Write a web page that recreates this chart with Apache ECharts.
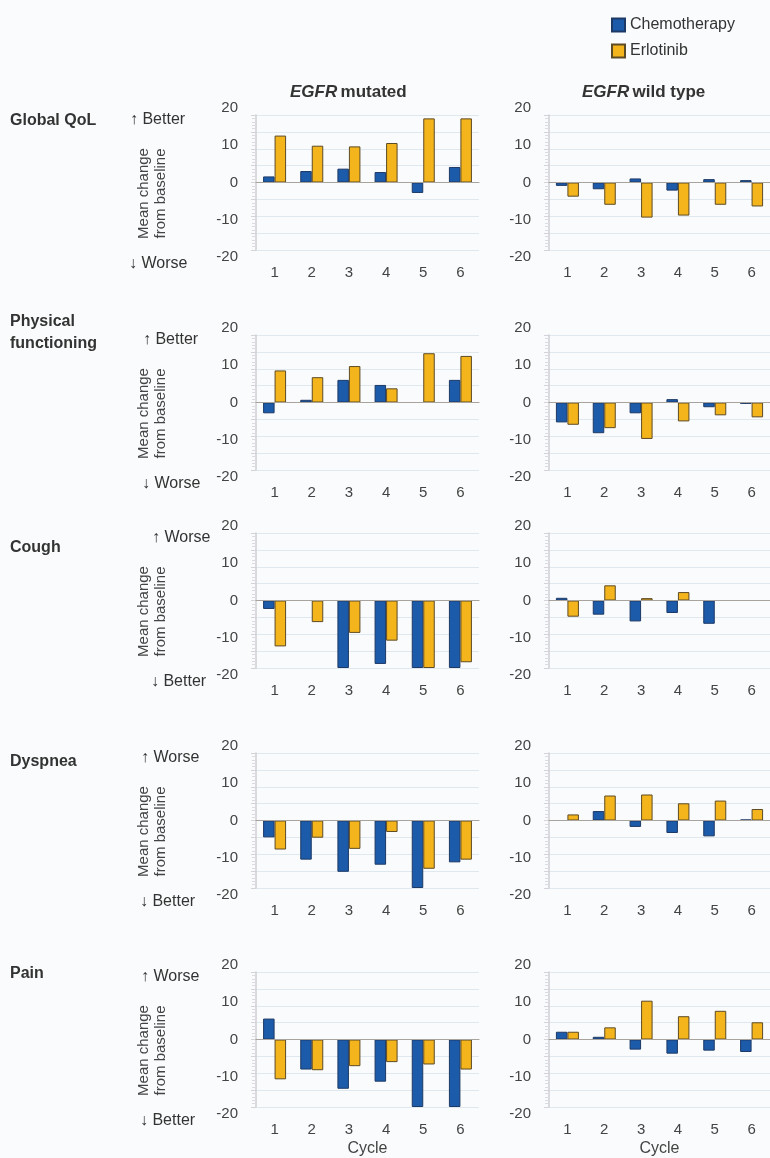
<!DOCTYPE html>
<html>
<head>
<meta charset="utf-8">
<script src="https://cdn.jsdelivr.net/npm/echarts@6/dist/echarts.min.js"></script>
<style>
  html, body { margin: 0; padding: 0; background: #fafbfc; }
  #chart { width: 770px; height: 1158px; }
</style>
</head>
<body>
<div id="chart"></div>
<script>
// Cycles on the x axis and the y-axis tick values
const cycles = ['1', '2', '3', '4', '5', '6'];
const yTicks = [-20, -10, 0, 10, 20];

// Mean change from baseline, EGFR mutated (Mut) and EGFR wild type (Wt)
const qolMutChemo = [1.8, 3.4, 4.1, 3.1, -3.1, 4.6];
const qolMutErlo = [13.9, 10.9, 10.7, 11.7, 19.0, 19.0];
const qolWtChemo = [-1.0, -2.0, 1.2, -2.4, 1.0, 0.7];
const qolWtErlo = [-4.2, -6.6, -10.4, -9.8, -6.6, -7.1];

const physMutChemo = [-3.2, 0.8, 6.7, 5.2, null, 6.7];
const physMutErlo = [9.5, 7.5, 10.8, 4.2, 14.6, 13.8];
const physWtChemo = [-5.9, -9.1, -3.2, 1.0, -1.4, -0.4];
const physWtErlo = [-6.6, -7.6, -10.8, -5.6, -3.8, -4.4];

const coughMutChemo = [-2.5, null, -20, -18.8, -20, -20];
const coughMutErlo = [-13.6, -6.4, -9.6, -11.9, -20, -18.3];
const coughWtChemo = [0.8, -4.2, -6.2, -3.7, -6.9, null];
const coughWtErlo = [-4.8, 4.5, 0.7, 2.5, null, null];

const dysMutChemo = [-5.0, -11.6, -15.2, -13.1, -20, -12.4];
const dysMutErlo = [-8.6, -5.1, -8.4, -3.4, -14.3, -11.6];
const dysWtChemo = [null, 2.8, -1.9, -3.7, -4.7, 0.3];
const dysWtErlo = [1.8, 7.4, 7.7, 5.1, 5.9, 3.4];

const painMutChemo = [6.2, -8.9, -14.6, -12.5, -20, -20];
const painMutErlo = [-11.8, -9.1, -7.9, -6.7, -7.4, -8.9];
const painWtChemo = [2.3, 0.8, -3.0, -4.2, -3.3, -3.7];
const painWtErlo = [2.3, 3.6, 11.5, 6.9, 8.5, 5.1];

const rowNames = ['Global QoL', 'Physical\nfunctioning', 'Cough', 'Dyspnea', 'Pain'];
const upLabels = ['\u2191 Better', '\u2191 Better', '\u2191 Worse', '\u2191 Worse', '\u2191 Worse'];
const downLabels = ['\u2193 Worse', '\u2193 Worse', '\u2193 Better', '\u2193 Better', '\u2193 Better'];
const seriesNames = ['Chemotherapy', 'Erlotinib'];
const yTitle = 'Mean change\nfrom baseline';

const panels = [
  [[qolMutChemo, qolMutErlo], [qolWtChemo, qolWtErlo]],
  [[physMutChemo, physMutErlo], [physWtChemo, physWtErlo]],
  [[coughMutChemo, coughMutErlo], [coughWtChemo, coughWtErlo]],
  [[dysMutChemo, dysMutErlo], [dysWtChemo, dysWtErlo]],
  [[painMutChemo, painMutErlo], [painWtChemo, painWtErlo]]
];

// Layout
const FONT = '"Liberation Sans", Arial, Helvetica, sans-serif';
const TEXT = '#333333';
const rowTops = [115, 335, 533, 753, 972];
const rowHeight = 135;
const colLeft = [256, 549];
const colWidth = [223, 228];
const upX = [130, 143, 152, 141, 141];
const rowLabelY = [121, 333, 548, 762, 974];

const colors = ['#1c5aaa', '#f4b51c'];
const borders = ['#1d3a66', '#5d4b25'];

const grids = [], xAxes = [], yAxes = [], series = [], graphics = [];
const yMin = yTicks[0], yMax = yTicks[yTicks.length - 1];

rowTops.forEach((top, r) => {
  [0, 1].forEach((c) => {
    const lastRow = r === rowTops.length - 1;
    // plotting grid
    const gi = grids.length;
    grids.push({ left: colLeft[c], top: top, width: colWidth[c], height: rowHeight, containLabel: false });
    xAxes.push({
      type: 'category', gridIndex: gi, data: cycles,
      axisLine: { onZero: true, lineStyle: { color: '#a8a39c', width: 1.2 } },
      axisTick: { show: false },
      axisLabel: { show: false },
      z: 3
    });
    yAxes.push({
      type: 'value', gridIndex: gi, min: yMin, max: yMax, interval: 5,
      axisLine: { show: true, lineStyle: { color: '#cfcfd4', width: 1.5 } },
      axisTick: { show: true, length: 5, lineStyle: { color: '#d4d4d8' } },
      minorTick: { show: true, splitNumber: 5, length: 4, lineStyle: { color: '#dcdce0' } },
      axisLabel: { show: false },
      splitLine: { show: true, lineStyle: { color: '#dfe7ef', width: 1 } }
    });
    panels[r][c].forEach((vals, s) => {
      series.push({
        type: 'bar', name: seriesNames[s], xAxisIndex: gi, yAxisIndex: gi,
        data: vals, barWidth: 11.5, barGap: '0%',
        itemStyle: { color: colors[s], borderColor: borders[s], borderWidth: 1 },
        emphasis: { disabled: true }
      });
    });
    // label grid carrying the tick labels and cycle labels
    const li = grids.length;
    grids.push({ left: colLeft[c], top: top - 7, width: colWidth[c], height: rowHeight + 14 });
    xAxes.push({
      type: 'category', gridIndex: li, data: cycles, position: 'bottom',
      axisLine: { show: false }, axisTick: { show: false },
      axisLabel: { show: true, margin: 8, color: '#444', fontSize: 15, fontFamily: FONT },
      name: lastRow ? 'Cycle' : '', nameLocation: 'middle', nameGap: 27,
      nameTextStyle: { color: '#444', fontSize: 16, fontFamily: FONT }
    });
    yAxes.push({
      type: 'value', gridIndex: li, min: yMin, max: yMax, interval: 10,
      axisLine: { show: false }, axisTick: { show: false }, splitLine: { show: false },
      axisLabel: { show: true, margin: 18, color: '#444', fontSize: 15, fontFamily: FONT }
    });
  });

  // vertical axis title, centred just below the zero line
  graphics.push({
    type: 'text', x: 152, y: top + rowHeight / 2 + 11, rotation: Math.PI / 2,
    style: { text: yTitle, font: '15px ' + FONT, fill: '#444', lineHeight: 17,
             textAlign: 'center', textVerticalAlign: 'middle' }
  });
  graphics.push({
    type: 'text', x: 10, y: rowLabelY[r],
    style: { text: rowNames[r], font: 'bold 16px ' + FONT, fill: TEXT, textVerticalAlign: 'middle', lineHeight: 22 }
  });
  graphics.push({
    type: 'text', x: upX[r], y: top + 5,
    style: { text: upLabels[r], font: '16px ' + FONT, fill: TEXT, textVerticalAlign: 'middle' }
  });
  graphics.push({
    type: 'text', x: upX[r] - 1, y: top + rowHeight + 14,
    style: { text: downLabels[r], font: '16px ' + FONT, fill: TEXT, textVerticalAlign: 'middle' }
  });
});

// column headers
[['mutated', 290], ['wild type', 582]].forEach(([rest, x]) => {
  graphics.push({
    type: 'text', x: x, y: 92,
    style: {
      text: '{i|EGFR} {b|' + rest + '}',
      textVerticalAlign: 'middle',
      rich: {
        i: { fontStyle: 'italic', fontWeight: 'bold', fontSize: 17, fontFamily: FONT, fill: TEXT },
        b: { fontWeight: 'bold', fontSize: 17, fontFamily: FONT, fill: TEXT }
      }
    }
  });
});

const chart = echarts.init(document.getElementById('chart'), null, { renderer: 'canvas' });
chart.setOption({
  backgroundColor: '#fafbfc',
  animation: false,
  textStyle: { fontFamily: FONT },
  legend: {
    data: seriesNames, orient: 'vertical', left: 606, top: 12,
    icon: 'rect', itemWidth: 13, itemHeight: 13, itemGap: 10,
    textStyle: { fontSize: 16, color: TEXT, fontFamily: FONT },
    selectedMode: false
  },
  grid: grids,
  xAxis: xAxes,
  yAxis: yAxes,
  series: series,
  graphic: graphics
});
</script>
</body>
</html>
